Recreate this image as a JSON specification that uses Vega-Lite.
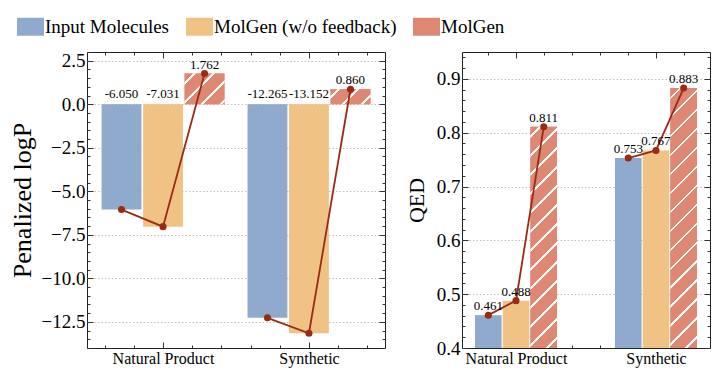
{
  "$schema": "https://vega.github.io/schema/vega-lite/v6.json",
  "padding": {"left": 8, "top": 17, "right": 5, "bottom": 0},
  "config": {
    "font": "Liberation Serif",
    "locale": {"number": {"decimal": ".", "thousands": ",", "grouping": [3], "currency": ["$", ""], "minus": "-"}},
    "view": {"stroke": "#222", "strokeWidth": 1},
    "axis": {"domain": false, "labelFont": "Liberation Serif", "titleFont": "Liberation Serif", "labelColor": "#000", "titleColor": "#000", "tickColor": "#333", "tickWidth": 1, "titleFontWeight": "normal", "gridColor": "#b0b0b0", "gridDash": [1.5, 2], "gridWidth": 0.8, "labelOverlap": false, "labelBound": false, "labelFlush": false}
  },
  "datasets": {
    "results": [
      {"task": "Natural Product", "method": "Input Molecules", "logp": -6.050, "qed": 0.461},
      {"task": "Natural Product", "method": "MolGen (w/o feedback)", "logp": -7.031, "qed": 0.488},
      {"task": "Natural Product", "method": "MolGen", "logp": 1.762, "qed": 0.811},
      {"task": "Synthetic", "method": "Input Molecules", "logp": -12.265, "qed": 0.753},
      {"task": "Synthetic", "method": "MolGen (w/o feedback)", "logp": -13.152, "qed": 0.767},
      {"task": "Synthetic", "method": "MolGen", "logp": 0.860, "qed": 0.883}
    ]
  },
  "data": {"name": "results"},
  "spacing": 18,
  "hconcat": [
    {
      "width": 298,
      "height": 296,
      "layer": [
        {
          "mark": {"type": "bar"},
          "encoding": {
            "x": {"field": "task", "type": "nominal", "scale": {"domain": ["Natural Product", "Synthetic"], "paddingInner": 0.158, "paddingOuter": 0.1}, "axis": null},
            "xOffset": {"field": "method", "type": "nominal", "scale": {"domain": ["Input Molecules", "MolGen (w/o feedback)", "MolGen"], "paddingInner": 0.04, "paddingOuter": 0}},
            "y": {"field": "logp", "type": "quantitative", "scale": {"domain": [-14, 3], "nice": false, "zero": false},
              "axis": {"orient": "left", "title": "Penalized logP", "titleFontSize": 26, "titlePadding": 6, "labelFontSize": 19, "labelPadding": 8, "grid": true,
                "values": [-14,-13.5,-13,-12.5,-12,-11.5,-11,-10.5,-10,-9.5,-9,-8.5,-8,-7.5,-7,-6.5,-6,-5.5,-5,-4.5,-4,-3.5,-3,-2.5,-2,-1.5,-1,-0.5,0,0.5,1,1.5,2,2.5,3],
                "tickSize": {"condition": {"test": "abs(datum.value/2.5 - round(datum.value/2.5)) < 0.001", "value": -6}, "value": -3},
                "gridOpacity": {"condition": {"test": "abs(datum.value/2.5 - round(datum.value/2.5)) < 0.001 && datum.value > -14 && datum.value < 3", "value": 1}, "value": 0},
                "labelExpr": "abs(datum.value/2.5 - round(datum.value/2.5)) < 0.001 ? replace(format(datum.value, '.1f'), '-', '\u2212') : ''"}},
            "color": {"field": "method", "type": "nominal",
              "scale": {"domain": ["Input Molecules", "MolGen (w/o feedback)", "MolGen"], "range": ["#8FAACC", "#F0C385", "#DE8873"]},
              "legend": {"title": null, "orient": "none", "legendX": -66, "legendY": -35, "direction": "horizontal", "symbolType": "M-1.5,-1H1.5V1H-1.5Z", "symbolSize": 324, "symbolStrokeWidth": 0, "symbolOpacity": 1,
                "labelFont": "Liberation Serif", "labelFontSize": 19, "labelColor": "#000", "labelLimit": 400, "columnPadding": 16, "labelOffset": 5, "padding": 0,
                "encode": {"symbols": {"update": {"fill": [
                  {"test": "datum.value === 'MolGen'", "value": {"gradient": "linear", "x1": 0, "y1": 0, "x2": 1.154, "y2": 0.769, "stops": [
                    {"offset": 0, "color": "#DE8873"}, {"offset": 0.28, "color": "#DE8873"}, {"offset": 0.28, "color": "#FFFFFF"}, {"offset": 0.3422, "color": "#FFFFFF"}, {"offset": 0.3422, "color": "#DE8873"},
                    {"offset": 0.7022, "color": "#DE8873"}, {"offset": 0.7022, "color": "#FFFFFF"}, {"offset": 0.7644, "color": "#FFFFFF"}, {"offset": 0.7644, "color": "#DE8873"}, {"offset": 1, "color": "#DE8873"}]}},
                  {"scale": "color", "field": "value"}]}}}}}
          }
        },
        {
          "transform": [{"filter": "datum.method === 'MolGen' && datum.task === 'Natural Product'"}],
          "mark": {"type": "bar", "fill": {"gradient": "linear", "x1": 0, "y1": 0, "x2": 1.112, "y2": 0.854, "stops": [
            {"offset": 0, "color": "#DE8873"}, {"offset": 0.1216, "color": "#DE8873"}, {"offset": 0.1216, "color": "#FFFFFF"}, {"offset": 0.1612, "color": "#FFFFFF"}, {"offset": 0.1612, "color": "#DE8873"},
            {"offset": 0.3904, "color": "#DE8873"}, {"offset": 0.3904, "color": "#FFFFFF"}, {"offset": 0.43, "color": "#FFFFFF"}, {"offset": 0.43, "color": "#DE8873"},
            {"offset": 0.6591, "color": "#DE8873"}, {"offset": 0.6591, "color": "#FFFFFF"}, {"offset": 0.6987, "color": "#FFFFFF"}, {"offset": 0.6987, "color": "#DE8873"},
            {"offset": 0.9279, "color": "#DE8873"}, {"offset": 0.9279, "color": "#FFFFFF"}, {"offset": 0.9675, "color": "#FFFFFF"}, {"offset": 0.9675, "color": "#DE8873"}, {"offset": 1, "color": "#DE8873"}]}},
          "encoding": {
            "x": {"field": "task", "type": "nominal", "scale": {"domain": ["Natural Product", "Synthetic"], "paddingInner": 0.158, "paddingOuter": 0.1}, "axis": null},
            "xOffset": {"field": "method", "type": "nominal", "scale": {"domain": ["Input Molecules", "MolGen (w/o feedback)", "MolGen"], "paddingInner": 0.04, "paddingOuter": 0}},
            "y": {"field": "logp", "type": "quantitative", "axis": null}
          }
        },
        {
          "transform": [{"filter": "datum.method === 'MolGen' && datum.task === 'Synthetic'"}],
          "mark": {"type": "bar", "fill": {"gradient": "linear", "x1": 0, "y1": 0, "x2": 1.2055, "y2": 0.452, "stops": [
            {"offset": 0, "color": "#DE8873"}, {"offset": 0.12, "color": "#DE8873"}, {"offset": 0.12, "color": "#FFFFFF"}, {"offset": 0.1709, "color": "#FFFFFF"}, {"offset": 0.1709, "color": "#DE8873"},
            {"offset": 0.4655, "color": "#DE8873"}, {"offset": 0.4655, "color": "#FFFFFF"}, {"offset": 0.5164, "color": "#FFFFFF"}, {"offset": 0.5164, "color": "#DE8873"},
            {"offset": 0.8109, "color": "#DE8873"}, {"offset": 0.8109, "color": "#FFFFFF"}, {"offset": 0.8618, "color": "#FFFFFF"}, {"offset": 0.8618, "color": "#DE8873"}, {"offset": 1, "color": "#DE8873"}]}},
          "encoding": {
            "x": {"field": "task", "type": "nominal", "scale": {"domain": ["Natural Product", "Synthetic"], "paddingInner": 0.158, "paddingOuter": 0.1}, "axis": null},
            "xOffset": {"field": "method", "type": "nominal", "scale": {"domain": ["Input Molecules", "MolGen (w/o feedback)", "MolGen"], "paddingInner": 0.04, "paddingOuter": 0}},
            "y": {"field": "logp", "type": "quantitative", "axis": null}
          }
        },
        {
          "mark": {"type": "line", "color": "#9B2A15", "strokeWidth": 1.8},
          "encoding": {
            "x": {"field": "task", "type": "nominal", "scale": {"domain": ["Natural Product", "Synthetic"], "paddingInner": 0.158, "paddingOuter": 0.1}, "axis": null},
            "xOffset": {"field": "method", "type": "nominal", "scale": {"type": "point", "domain": ["Input Molecules", "MolGen (w/o feedback)", "MolGen"], "padding": 0.48}},
            "y": {"field": "logp", "type": "quantitative",
              "axis": {"orient": "right", "title": null, "labels": false, "grid": false,
                "values": [-14,-13.5,-13,-12.5,-12,-11.5,-11,-10.5,-10,-9.5,-9,-8.5,-8,-7.5,-7,-6.5,-6,-5.5,-5,-4.5,-4,-3.5,-3,-2.5,-2,-1.5,-1,-0.5,0,0.5,1,1.5,2,2.5,3],
                "tickSize": {"condition": {"test": "abs(datum.value/2.5 - round(datum.value/2.5)) < 0.001", "value": -6}, "value": -3}}},
            "detail": {"field": "task"},
            "order": {"value": null}
          }
        },
        {
          "mark": {"type": "point", "filled": true, "color": "#9B2A15", "size": 50, "opacity": 1},
          "encoding": {
            "x": {"field": "task", "type": "nominal", "scale": {"domain": ["Natural Product", "Synthetic"], "paddingInner": 0.158, "paddingOuter": 0.1}, "axis": null},
            "xOffset": {"field": "method", "type": "nominal", "scale": {"type": "point", "domain": ["Input Molecules", "MolGen (w/o feedback)", "MolGen"], "padding": 0.48}},
            "y": {"field": "logp", "type": "quantitative", "axis": null}
          }
        },
        {
          "transform": [{"filter": "datum.logp < 0"}],
          "mark": {"type": "text", "baseline": "bottom", "dy": -3, "fontSize": 13, "font": "Liberation Serif", "color": "#000"},
          "encoding": {
            "x": {"field": "task", "type": "nominal", "scale": {"domain": ["Natural Product", "Synthetic"], "paddingInner": 0.158, "paddingOuter": 0.1}, "axis": null},
            "xOffset": {"field": "method", "type": "nominal", "scale": {"type": "point", "domain": ["Input Molecules", "MolGen (w/o feedback)", "MolGen"], "padding": 0.48}},
            "y": {"datum": 0, "type": "quantitative", "axis": null},
            "text": {"field": "logp", "type": "quantitative", "format": ".3f"}
          }
        },
        {
          "transform": [{"filter": "datum.logp >= 0"}],
          "mark": {"type": "text", "baseline": "bottom", "dy": -2, "fontSize": 13, "font": "Liberation Serif", "color": "#000"},
          "encoding": {
            "x": {"field": "task", "type": "nominal", "scale": {"domain": ["Natural Product", "Synthetic"], "paddingInner": 0.158, "paddingOuter": 0.1}, "axis": null},
            "xOffset": {"field": "method", "type": "nominal", "scale": {"type": "point", "domain": ["Input Molecules", "MolGen (w/o feedback)", "MolGen"], "padding": 0.48}},
            "y": {"field": "logp", "type": "quantitative", "axis": null},
            "text": {"field": "logp", "type": "quantitative", "format": ".3f"}
          }
        },
        {
          "mark": {"type": "point", "opacity": 0},
          "encoding": {
            "x": {"datum": 0, "type": "quantitative", "scale": {"domain": [-0.5205, 1.5205], "nice": false, "zero": false},
              "axis": {"orient": "bottom", "title": null, "grid": false, "labelFontSize": 16, "labelPadding": 8,
                "values": [-0.4, -0.2, 0, 0.2, 0.4, 0.6, 0.8, 1, 1.2, 1.4],
                "tickSize": {"condition": {"test": "datum.value === 0 || datum.value === 1", "value": -6}, "value": -3},
                "labelExpr": "datum.value === 0 ? 'Natural Product' : (datum.value === 1 ? 'Synthetic' : '')"}}
          }
        },
        {
          "mark": {"type": "point", "opacity": 0},
          "encoding": {
            "x": {"datum": 0, "type": "quantitative", "scale": {"domain": [-0.5205, 1.5205], "nice": false, "zero": false},
              "axis": {"orient": "top", "title": null, "grid": false, "labels": false,
                "values": [-0.4, -0.2, 0, 0.2, 0.4, 0.6, 0.8, 1, 1.2, 1.4],
                "tickSize": {"condition": {"test": "datum.value === 0 || datum.value === 1", "value": -6}, "value": -3}}}
          }
        }
      ],
      "resolve": {"scale": {"x": "independent", "xOffset": "independent"}, "axis": {"x": "independent", "y": "independent"}}
    },
    {
      "width": 248,
      "height": 296,
      "layer": [
        {
          "mark": {"type": "bar"},
          "encoding": {
            "x": {"field": "task", "type": "nominal", "scale": {"domain": ["Natural Product", "Synthetic"], "paddingInner": 0.414, "paddingOuter": 0.093}, "axis": null},
            "xOffset": {"field": "method", "type": "nominal", "scale": {"domain": ["Input Molecules", "MolGen (w/o feedback)", "MolGen"], "paddingInner": 0.04, "paddingOuter": 0}},
            "y": {"field": "qed", "type": "quantitative", "scale": {"domain": [0.4, 0.95], "nice": false, "zero": false},
              "axis": {"orient": "left", "title": "QED", "titleFontSize": 22, "titlePadding": 8, "labelFontSize": 19, "labelPadding": 8, "grid": true,
                "values": [0.4,0.42,0.44,0.46,0.48,0.5,0.52,0.54,0.56,0.58,0.6,0.62,0.64,0.66,0.68,0.7,0.72,0.74,0.76,0.78,0.8,0.82,0.84,0.86,0.88,0.9,0.92,0.94],
                "tickSize": {"condition": {"test": "abs(datum.value*10 - round(datum.value*10)) < 0.001", "value": -6}, "value": -3},
                "gridOpacity": {"condition": {"test": "abs(datum.value*10 - round(datum.value*10)) < 0.001 && datum.value > 0.41", "value": 1}, "value": 0},
                "labelExpr": "abs(datum.value*10 - round(datum.value*10)) < 0.001 ? format(datum.value, '.1f') : ''"}},
            "y2": {"datum": 0.4},
            "fill": {"field": "method", "type": "nominal",
              "scale": {"domain": ["Input Molecules", "MolGen (w/o feedback)", "MolGen"], "range": ["#8FAACC", "#F0C385", "#DE8873"]}, "legend": null}
          }
        },
        {
          "transform": [{"filter": "datum.method === 'MolGen' && datum.task === 'Natural Product'"}],
          "mark": {"type": "bar", "fill": {"gradient": "linear", "x1": 0, "y1": 0, "x2": 0.1328, "y2": 1.1043, "stops": [
            {"offset": 0, "color": "#DE8873"},
            {"offset": 0.0347, "color": "#DE8873"}, {"offset": 0.0347, "color": "#FFFFFF"}, {"offset": 0.046, "color": "#FFFFFF"}, {"offset": 0.046, "color": "#DE8873"},
            {"offset": 0.1114, "color": "#DE8873"}, {"offset": 0.1114, "color": "#FFFFFF"}, {"offset": 0.1227, "color": "#FFFFFF"}, {"offset": 0.1227, "color": "#DE8873"},
            {"offset": 0.1881, "color": "#DE8873"}, {"offset": 0.1881, "color": "#FFFFFF"}, {"offset": 0.1994, "color": "#FFFFFF"}, {"offset": 0.1994, "color": "#DE8873"},
            {"offset": 0.2647, "color": "#DE8873"}, {"offset": 0.2647, "color": "#FFFFFF"}, {"offset": 0.276, "color": "#FFFFFF"}, {"offset": 0.276, "color": "#DE8873"},
            {"offset": 0.3414, "color": "#DE8873"}, {"offset": 0.3414, "color": "#FFFFFF"}, {"offset": 0.3527, "color": "#FFFFFF"}, {"offset": 0.3527, "color": "#DE8873"},
            {"offset": 0.4181, "color": "#DE8873"}, {"offset": 0.4181, "color": "#FFFFFF"}, {"offset": 0.4294, "color": "#FFFFFF"}, {"offset": 0.4294, "color": "#DE8873"},
            {"offset": 0.4948, "color": "#DE8873"}, {"offset": 0.4948, "color": "#FFFFFF"}, {"offset": 0.5061, "color": "#FFFFFF"}, {"offset": 0.5061, "color": "#DE8873"},
            {"offset": 0.5714, "color": "#DE8873"}, {"offset": 0.5714, "color": "#FFFFFF"}, {"offset": 0.5827, "color": "#FFFFFF"}, {"offset": 0.5827, "color": "#DE8873"},
            {"offset": 0.6481, "color": "#DE8873"}, {"offset": 0.6481, "color": "#FFFFFF"}, {"offset": 0.6594, "color": "#FFFFFF"}, {"offset": 0.6594, "color": "#DE8873"},
            {"offset": 0.7248, "color": "#DE8873"}, {"offset": 0.7248, "color": "#FFFFFF"}, {"offset": 0.7361, "color": "#FFFFFF"}, {"offset": 0.7361, "color": "#DE8873"},
            {"offset": 0.8015, "color": "#DE8873"}, {"offset": 0.8015, "color": "#FFFFFF"}, {"offset": 0.8128, "color": "#FFFFFF"}, {"offset": 0.8128, "color": "#DE8873"},
            {"offset": 0.8781, "color": "#DE8873"}, {"offset": 0.8781, "color": "#FFFFFF"}, {"offset": 0.8894, "color": "#FFFFFF"}, {"offset": 0.8894, "color": "#DE8873"},
            {"offset": 0.9548, "color": "#DE8873"}, {"offset": 0.9548, "color": "#FFFFFF"}, {"offset": 0.9661, "color": "#FFFFFF"}, {"offset": 0.9661, "color": "#DE8873"},
            {"offset": 1, "color": "#DE8873"}]}},
          "encoding": {
            "x": {"field": "task", "type": "nominal", "scale": {"domain": ["Natural Product", "Synthetic"], "paddingInner": 0.414, "paddingOuter": 0.093}, "axis": null},
            "xOffset": {"field": "method", "type": "nominal", "scale": {"domain": ["Input Molecules", "MolGen (w/o feedback)", "MolGen"], "paddingInner": 0.04, "paddingOuter": 0}},
            "y": {"field": "qed", "type": "quantitative", "axis": null},
            "y2": {"datum": 0.4}
          }
        },
        {
          "transform": [{"filter": "datum.method === 'MolGen' && datum.task === 'Synthetic'"}],
          "mark": {"type": "bar", "fill": {"gradient": "linear", "x1": 0, "y1": 0, "x2": 0.1116, "y2": 1.0909, "stops": [
            {"offset": 0, "color": "#DE8873"},
            {"offset": 0.03, "color": "#DE8873"}, {"offset": 0.03, "color": "#FFFFFF"}, {"offset": 0.0398, "color": "#FFFFFF"}, {"offset": 0.0398, "color": "#DE8873"},
            {"offset": 0.0963, "color": "#DE8873"}, {"offset": 0.0963, "color": "#FFFFFF"}, {"offset": 0.1061, "color": "#FFFFFF"}, {"offset": 0.1061, "color": "#DE8873"},
            {"offset": 0.1626, "color": "#DE8873"}, {"offset": 0.1626, "color": "#FFFFFF"}, {"offset": 0.1724, "color": "#FFFFFF"}, {"offset": 0.1724, "color": "#DE8873"},
            {"offset": 0.2289, "color": "#DE8873"}, {"offset": 0.2289, "color": "#FFFFFF"}, {"offset": 0.2387, "color": "#FFFFFF"}, {"offset": 0.2387, "color": "#DE8873"},
            {"offset": 0.2952, "color": "#DE8873"}, {"offset": 0.2952, "color": "#FFFFFF"}, {"offset": 0.305, "color": "#FFFFFF"}, {"offset": 0.305, "color": "#DE8873"},
            {"offset": 0.3615, "color": "#DE8873"}, {"offset": 0.3615, "color": "#FFFFFF"}, {"offset": 0.3713, "color": "#FFFFFF"}, {"offset": 0.3713, "color": "#DE8873"},
            {"offset": 0.4278, "color": "#DE8873"}, {"offset": 0.4278, "color": "#FFFFFF"}, {"offset": 0.4375, "color": "#FFFFFF"}, {"offset": 0.4375, "color": "#DE8873"},
            {"offset": 0.4941, "color": "#DE8873"}, {"offset": 0.4941, "color": "#FFFFFF"}, {"offset": 0.5038, "color": "#FFFFFF"}, {"offset": 0.5038, "color": "#DE8873"},
            {"offset": 0.5604, "color": "#DE8873"}, {"offset": 0.5604, "color": "#FFFFFF"}, {"offset": 0.5701, "color": "#FFFFFF"}, {"offset": 0.5701, "color": "#DE8873"},
            {"offset": 0.6267, "color": "#DE8873"}, {"offset": 0.6267, "color": "#FFFFFF"}, {"offset": 0.6364, "color": "#FFFFFF"}, {"offset": 0.6364, "color": "#DE8873"},
            {"offset": 0.6929, "color": "#DE8873"}, {"offset": 0.6929, "color": "#FFFFFF"}, {"offset": 0.7027, "color": "#FFFFFF"}, {"offset": 0.7027, "color": "#DE8873"},
            {"offset": 0.7592, "color": "#DE8873"}, {"offset": 0.7592, "color": "#FFFFFF"}, {"offset": 0.769, "color": "#FFFFFF"}, {"offset": 0.769, "color": "#DE8873"},
            {"offset": 0.8255, "color": "#DE8873"}, {"offset": 0.8255, "color": "#FFFFFF"}, {"offset": 0.8353, "color": "#FFFFFF"}, {"offset": 0.8353, "color": "#DE8873"},
            {"offset": 0.8918, "color": "#DE8873"}, {"offset": 0.8918, "color": "#FFFFFF"}, {"offset": 0.9016, "color": "#FFFFFF"}, {"offset": 0.9016, "color": "#DE8873"},
            {"offset": 0.9581, "color": "#DE8873"}, {"offset": 0.9581, "color": "#FFFFFF"}, {"offset": 0.9679, "color": "#FFFFFF"}, {"offset": 0.9679, "color": "#DE8873"},
            {"offset": 1, "color": "#DE8873"}]}},
          "encoding": {
            "x": {"field": "task", "type": "nominal", "scale": {"domain": ["Natural Product", "Synthetic"], "paddingInner": 0.414, "paddingOuter": 0.093}, "axis": null},
            "xOffset": {"field": "method", "type": "nominal", "scale": {"domain": ["Input Molecules", "MolGen (w/o feedback)", "MolGen"], "paddingInner": 0.04, "paddingOuter": 0}},
            "y": {"field": "qed", "type": "quantitative", "axis": null},
            "y2": {"datum": 0.4}
          }
        },
        {
          "mark": {"type": "line", "color": "#9B2A15", "strokeWidth": 1.8},
          "encoding": {
            "x": {"field": "task", "type": "nominal", "scale": {"domain": ["Natural Product", "Synthetic"], "paddingInner": 0.414, "paddingOuter": 0.093}, "axis": null},
            "xOffset": {"field": "method", "type": "nominal", "scale": {"type": "point", "domain": ["Input Molecules", "MolGen (w/o feedback)", "MolGen"], "padding": 0.48}},
            "y": {"field": "qed", "type": "quantitative",
              "axis": {"orient": "right", "title": null, "labels": false, "grid": false,
                "values": [0.4,0.42,0.44,0.46,0.48,0.5,0.52,0.54,0.56,0.58,0.6,0.62,0.64,0.66,0.68,0.7,0.72,0.74,0.76,0.78,0.8,0.82,0.84,0.86,0.88,0.9,0.92,0.94],
                "tickSize": {"condition": {"test": "abs(datum.value*10 - round(datum.value*10)) < 0.001", "value": -6}, "value": -3}}},
            "detail": {"field": "task"},
            "order": {"value": null}
          }
        },
        {
          "mark": {"type": "point", "filled": true, "color": "#9B2A15", "size": 50, "opacity": 1},
          "encoding": {
            "x": {"field": "task", "type": "nominal", "scale": {"domain": ["Natural Product", "Synthetic"], "paddingInner": 0.414, "paddingOuter": 0.093}, "axis": null},
            "xOffset": {"field": "method", "type": "nominal", "scale": {"type": "point", "domain": ["Input Molecules", "MolGen (w/o feedback)", "MolGen"], "padding": 0.48}},
            "y": {"field": "qed", "type": "quantitative", "axis": null}
          }
        },
        {
          "mark": {"type": "text", "baseline": "bottom", "dy": -2, "fontSize": 13, "font": "Liberation Serif", "color": "#000"},
          "encoding": {
            "x": {"field": "task", "type": "nominal", "scale": {"domain": ["Natural Product", "Synthetic"], "paddingInner": 0.414, "paddingOuter": 0.093}, "axis": null},
            "xOffset": {"field": "method", "type": "nominal", "scale": {"type": "point", "domain": ["Input Molecules", "MolGen (w/o feedback)", "MolGen"], "padding": 0.48}},
            "y": {"field": "qed", "type": "quantitative", "axis": null},
            "text": {"field": "qed", "type": "quantitative", "format": ".3f"}
          }
        },
        {
          "mark": {"type": "point", "opacity": 0},
          "encoding": {
            "x": {"datum": 0, "type": "quantitative", "scale": {"domain": [-0.3857, 1.3857], "nice": false, "zero": false},
              "axis": {"orient": "bottom", "title": null, "grid": false, "labelFontSize": 16, "labelPadding": 8,
                "values": [-0.2, 0, 0.2, 0.4, 0.6, 0.8, 1, 1.2],
                "tickSize": {"condition": {"test": "datum.value === 0 || datum.value === 1", "value": -6}, "value": -3},
                "labelExpr": "datum.value === 0 ? 'Natural Product' : (datum.value === 1 ? 'Synthetic' : '')"}}
          }
        },
        {
          "mark": {"type": "point", "opacity": 0},
          "encoding": {
            "x": {"datum": 0, "type": "quantitative", "scale": {"domain": [-0.3857, 1.3857], "nice": false, "zero": false},
              "axis": {"orient": "top", "title": null, "grid": false, "labels": false,
                "values": [-0.2, 0, 0.2, 0.4, 0.6, 0.8, 1, 1.2],
                "tickSize": {"condition": {"test": "datum.value === 0 || datum.value === 1", "value": -6}, "value": -3}}}
          }
        }
      ],
      "resolve": {"scale": {"x": "independent", "xOffset": "independent"}, "axis": {"x": "independent", "y": "independent"}}
    }
  ]
}
